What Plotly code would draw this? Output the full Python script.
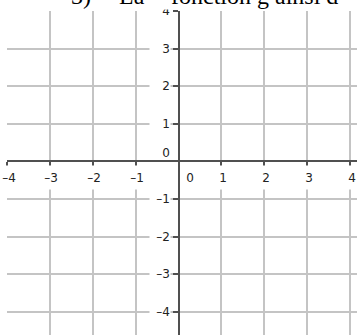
import plotly.graph_objects as go

# axis setup
X_RANGE = [-4.0, 4.16]
Y_RANGE = [-4.62, 4.0]
X_TICKS = [-4, -3, -2, -1, 0, 1, 2, 3, 4]
Y_TICKS = [-4, -3, -2, -1, 0, 1, 2, 3, 4]
X_TICK_LABELS = ["–4", "–3", "–2", "–1", "0", "1", "2", "3", "4"]
Y_TICK_LABELS = ["–4", "–3", "–2", "–1", "0", "1", "2", "3", "4"]
TITLE_PARTS = ["3)", "La", "fonction g ainsi d"]
TITLE_LEFT_PX = [70, 118, 170]

W, H = 357, 335
ML, MT = 7, 11
PLOT_W = W - ML

AXIS_COLOR = "#505050"
GRID_COLOR = "#c4c4c4"
LABEL_FONT = dict(family="DejaVu Sans", size=12, color="#222222")


def frac(v, rng):
    return (v - rng[0]) / (rng[1] - rng[0])


fig = go.Figure()

annotations = []
# x axis tick labels, on a white box that hides the grid behind them
for v, lab in zip(X_TICKS, X_TICK_LABELS):
    annotations.append(dict(
        x=v, y=0, xref="x", yref="y", text=lab, showarrow=False,
        font=LABEL_FONT, bgcolor="white", borderpad=0,
        width=18, height=23, xanchor="center", yanchor="middle",
        xshift=11 if v == 0 else 1.5, yshift=-16,
    ))
# y axis tick labels
for v, lab in zip(Y_TICKS, Y_TICK_LABELS):
    annotations.append(dict(
        x=0, y=v, xref="x", yref="y", text=lab, showarrow=False,
        font=LABEL_FONT, bgcolor="white", borderpad=0,
        width=20, height=12 if v == 0 else 14, align="right",
        xanchor="right", yanchor="middle",
        xshift=-8, yshift=8 if v == 0 else 0,
    ))
# heading from the page above the graph (cut at the top)
widths = [TITLE_LEFT_PX[1] - TITLE_LEFT_PX[0], TITLE_LEFT_PX[2] - TITLE_LEFT_PX[1], W - TITLE_LEFT_PX[2]]
for txt, px, w in zip(TITLE_PARTS, TITLE_LEFT_PX, widths):
    annotations.append(dict(
        x=(px - ML) / PLOT_W, y=1, xref="paper", yref="paper", text=txt,
        showarrow=False, font=dict(family="Liberation Serif", size=24, color="black"),
        bgcolor="white", borderpad=0, width=w, height=30, align="left", valign="bottom",
        xanchor="left", yanchor="bottom", yshift=1,
    ))

fig.update_layout(
    width=W, height=H,
    margin=dict(l=ML, r=0, t=MT, b=0, pad=0),
    paper_bgcolor="white", plot_bgcolor="white",
    showlegend=False,
    annotations=annotations,
    xaxis=dict(
        range=X_RANGE, tickvals=X_TICKS, showticklabels=False,
        showgrid=True, gridcolor=GRID_COLOR, gridwidth=1.5, zeroline=False,
        showline=True, linecolor=AXIS_COLOR, linewidth=1.5,
        ticks="outside", ticklen=5, tickcolor=AXIS_COLOR, tickwidth=1.5,
        anchor="free", position=frac(0, Y_RANGE), automargin=False, fixedrange=True,
    ),
    yaxis=dict(
        range=Y_RANGE, tickvals=Y_TICKS, showticklabels=False,
        showgrid=True, gridcolor=GRID_COLOR, gridwidth=1.5, zeroline=False,
        showline=True, linecolor=AXIS_COLOR, linewidth=2,
        ticks="outside", ticklen=5, tickcolor=AXIS_COLOR, tickwidth=1.5,
        anchor="free", position=frac(0, X_RANGE), automargin=False, fixedrange=True,
    ),
)

# the page's default body margin would push the figure 8px in
fig.write_html(
    "out.html",
    config={"displayModeBar": False},
    post_script="document.body.style.margin = '0px';",
)
